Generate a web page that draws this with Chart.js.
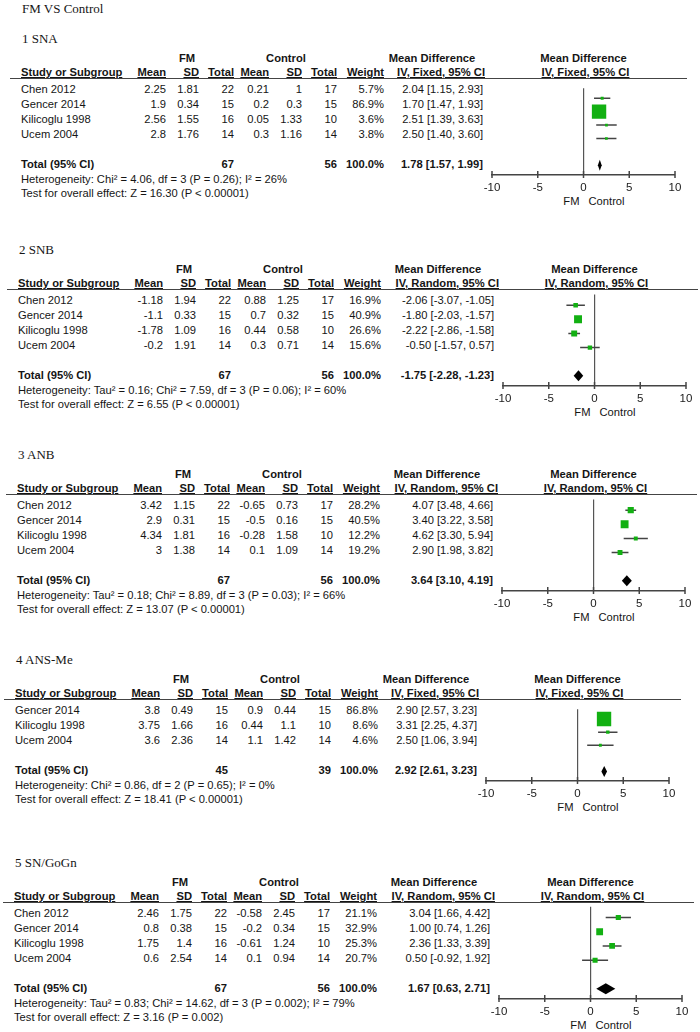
<!DOCTYPE html>
<html lang="en">
<head>
<meta charset="UTF-8">
<title>FM VS Control</title>
<script src="https://cdn.jsdelivr.net/npm/chart.js"></script>
<style>
  body { margin: 0; background: #fff; }
  #page {
    position: relative; width: 700px; height: 1032px; overflow: hidden;
    font-family: "Liberation Sans", Arial, sans-serif; font-size: 11.2px; color: #151515;
  }
  .t { position: absolute; white-space: nowrap; line-height: 14px; height: 14px; }
  .b { font-weight: bold; }
  .u { text-decoration: underline; }
  .serif { font-family: "Liberation Serif", "Times New Roman", serif; font-size: 13px; }
  .rule { position: absolute; height: 0; border-top: 1.5px solid #444; }
  canvas { position: absolute; }
</style>
</head>
<body>
<div id="page"></div>
<script>
// ---- data ----
const studies4 = ['Chen 2012', 'Gencer 2014', 'Kilicoglu 1998', 'Ucem 2004'];
const studies3 = ['Gencer 2014', 'Kilicoglu 1998', 'Ucem 2004'];
const xTicks = [-10, -5, 0, 5, 10];

// 1 SNA
const snaFmMean = [2.25, 1.9, 2.56, 2.8];
const snaFmSD = [1.81, 0.34, 1.55, 1.76];
const snaFmN = [22, 15, 16, 14];
const snaCtMean = [0.21, 0.2, 0.05, 0.3];
const snaCtSD = [1, 0.3, 1.33, 1.16];
const snaCtN = [17, 15, 10, 14];
const snaWeight = [5.7, 86.9, 3.6, 3.8];
const snaMD = [2.04, 1.70, 2.51, 2.50];
const snaLo = [1.15, 1.47, 1.39, 1.40];
const snaHi = [2.93, 1.93, 3.63, 3.60];
const snaTotal = [67, 56, 1.78, 1.57, 1.99];

// 2 SNB
const snbFmMean = [-1.18, -1.1, -1.78, -0.2];
const snbFmSD = [1.94, 0.33, 1.09, 1.91];
const snbFmN = [22, 15, 16, 14];
const snbCtMean = [0.88, 0.7, 0.44, 0.3];
const snbCtSD = [1.25, 0.32, 0.58, 0.71];
const snbCtN = [17, 15, 10, 14];
const snbWeight = [16.9, 40.9, 26.6, 15.6];
const snbMD = [-2.06, -1.80, -2.22, -0.50];
const snbLo = [-3.07, -2.03, -2.86, -1.57];
const snbHi = [-1.05, -1.57, -1.58, 0.57];
const snbTotal = [67, 56, -1.75, -2.28, -1.23];

// 3 ANB
const anbFmMean = [3.42, 2.9, 4.34, 3];
const anbFmSD = [1.15, 0.31, 1.81, 1.38];
const anbFmN = [22, 15, 16, 14];
const anbCtMean = [-0.65, -0.5, -0.28, 0.1];
const anbCtSD = [0.73, 0.16, 1.58, 1.09];
const anbCtN = [17, 15, 10, 14];
const anbWeight = [28.2, 40.5, 12.2, 19.2];
const anbMD = [4.07, 3.40, 4.62, 2.90];
const anbLo = [3.48, 3.22, 3.30, 1.98];
const anbHi = [4.66, 3.58, 5.94, 3.82];
const anbTotal = [67, 56, 3.64, 3.10, 4.19];

// 4 ANS-Me
const ansFmMean = [3.8, 3.75, 3.6];
const ansFmSD = [0.49, 1.66, 2.36];
const ansFmN = [15, 16, 14];
const ansCtMean = [0.9, 0.44, 1.1];
const ansCtSD = [0.44, 1.1, 1.42];
const ansCtN = [15, 10, 14];
const ansWeight = [86.8, 8.6, 4.6];
const ansMD = [2.90, 3.31, 2.50];
const ansLo = [2.57, 2.25, 1.06];
const ansHi = [3.23, 4.37, 3.94];
const ansTotal = [45, 39, 2.92, 2.61, 3.23];

// 5 SN/GoGn
const sngFmMean = [2.46, 0.8, 1.75, 0.6];
const sngFmSD = [1.75, 0.38, 1.4, 2.54];
const sngFmN = [22, 15, 16, 14];
const sngCtMean = [-0.58, -0.2, -0.61, 0.1];
const sngCtSD = [2.45, 0.34, 1.24, 0.94];
const sngCtN = [17, 15, 10, 14];
const sngWeight = [21.1, 32.9, 25.3, 20.7];
const sngMD = [3.04, 1.00, 2.36, 0.50];
const sngLo = [1.66, 0.74, 1.33, -0.92];
const sngHi = [4.42, 1.26, 3.39, 1.92];
const sngTotal = [67, 56, 1.67, 0.63, 2.71];

const GREEN = '#12b012';
const page = document.getElementById('page');

function put(txt, x, y, align, cls) {
  const d = document.createElement('div');
  d.className = 't ' + (cls || '');
  d.textContent = txt;
  if (align === 'right') {
    d.style.left = (x - 300) + 'px'; d.style.width = '300px'; d.style.textAlign = 'right';
  } else if (align === 'center') {
    d.style.left = (x - 150) + 'px'; d.style.width = '300px'; d.style.textAlign = 'center';
  } else {
    d.style.left = x + 'px';
  }
  d.style.top = (y - 7) + 'px';
  page.appendChild(d);
}

const ci = (m, l, h) => m.toFixed(2) + ' [' + l.toFixed(2) + ', ' + h.toFixed(2) + ']';

function panel(p) {
  const R = p.rule, dx = p.dx, n = p.studies.length;
  const cM1 = 166 + dx, cS1 = 199 + dx, cN1 = 234 + dx;
  const cM2 = 269 + dx, cS2 = 302 + dx, cN2 = 337 + dx, cW = 384 + dx;
  const cCI = cW + (p.random ? 113 : 99);
  const plotL = cCI + 9, plotW = 183, zero = plotL + plotW / 2;
  const left = 21 + dx;
  const model = p.random ? 'IV, Random, 95% CI' : 'IV, Fixed, 95% CI';

  put(p.title, 22 + dx, R - 39, 'left', 'serif');
  put('FM', 187 + dx, R - 20, 'center', 'b');
  put('Control', 286 + dx, R - 20, 'center', 'b');
  put('Mean Difference', cCI - (p.random ? 56 : 51), R - 20, 'center', 'b');
  put('Mean Difference', zero, R - 20, 'center', 'b');
  const hy = R - 6;
  put('Study or Subgroup', left, hy, 'left', 'b u');
  put('Mean', cM1, hy, 'right', 'b u');
  put('SD', cS1, hy, 'right', 'b u');
  put('Total', cN1, hy, 'right', 'b u');
  put('Mean', cM2, hy, 'right', 'b u');
  put('SD', cS2, hy, 'right', 'b u');
  put('Total', cN2, hy, 'right', 'b u');
  put('Weight', cW, hy, 'right', 'b u');
  put(model, cCI + (p.random ? 5 : 2), hy, 'right', 'b u');
  put(model, zero + 2, hy, 'center', 'b u');

  const rule = document.createElement('div');
  rule.className = 'rule';
  rule.style.left = (10 + dx) + 'px';
  rule.style.top = R + 'px';
  rule.style.width = (plotL + plotW + 12 - 10 - dx) + 'px';
  page.appendChild(rule);

  p.studies.forEach((s, i) => {
    const y = R + 11 + 15 * i;
    put(s, left, y, 'left');
    put(String(p.fmMean[i]), cM1, y, 'right');
    put(String(p.fmSD[i]), cS1, y, 'right');
    put(String(p.fmN[i]), cN1, y, 'right');
    put(String(p.ctMean[i]), cM2, y, 'right');
    put(String(p.ctSD[i]), cS2, y, 'right');
    put(String(p.ctN[i]), cN2, y, 'right');
    put(p.weight[i].toFixed(1) + '%', cW, y, 'right');
    put(ci(p.md[i], p.lo[i], p.hi[i]), cCI, y, 'right');
  });
  const ty = R + 11 + 15 * (n + 1);
  put('Total (95% CI)', left, ty, 'left', 'b');
  put(String(p.total[0]), cN1, ty, 'right', 'b');
  put(String(p.total[1]), cN2, ty, 'right', 'b');
  put('100.0%', cW, ty, 'right', 'b');
  put(ci(p.total[2], p.total[3], p.total[4]), cCI, ty, 'right', 'b');
  put(p.het, left, ty + 15, 'left');
  put(p.test, left, ty + 29, 'left');

  const areaH = Math.round((n + 2.47) * 15);
  put('FM', zero - 4, R + areaH + 26, 'right');
  put('Control', zero + 5, R + areaH + 26, 'left');

  const c = document.createElement('canvas');
  c.width = plotW + 30;
  c.height = areaH + 36;
  c.style.left = (plotL - 15) + 'px';
  c.style.top = R + 'px';
  page.appendChild(c);

  const forest = {
    id: 'forest',
    afterDraw(chart) {
      const { ctx, scales: { x, y } } = chart;
      ctx.save();
      // tick marks crossing the axis
      ctx.strokeStyle = '#444';
      ctx.lineWidth = 1.5;
      const ab = chart.chartArea.bottom;
      xTicks.forEach(v => {
        const px = x.getPixelForValue(v);
        ctx.beginPath(); ctx.moveTo(px, ab - 4); ctx.lineTo(px, ab + 3); ctx.stroke();
      });
      // pooled diamond
      const yc = y.getPixelForValue(n + 1);
      const xl = x.getPixelForValue(p.total[3]);
      const xm = x.getPixelForValue(p.total[2]);
      const xr = x.getPixelForValue(p.total[4]);
      ctx.fillStyle = '#000';
      ctx.beginPath();
      ctx.moveTo(xl, yc); ctx.lineTo(xm, yc - 5.5); ctx.lineTo(xr, yc); ctx.lineTo(xm, yc + 5.5);
      ctx.closePath(); ctx.fill();
      ctx.restore();
    }
  };

  new Chart(c, {
    type: 'scatter',
    data: {
      datasets: [
        {
          data: p.md.map((v, i) => ({ x: v, y: i })),
          pointStyle: 'rect',
          pointRadius: p.weight.map(w => (2.2 + 0.14 * w) / Math.SQRT2),
          backgroundColor: GREEN,
          borderWidth: 0
        },
        ...p.lo.map((l, i) => ({
          type: 'line',
          data: [{ x: l, y: i }, { x: p.hi[i], y: i }],
          borderColor: '#444',
          borderWidth: 1.5,
          pointRadius: 0
        }))
      ]
    },
    options: {
      responsive: false,
      animation: false,
      layout: { padding: { left: 15, right: 15, top: 0, bottom: 0 } },
      plugins: { legend: { display: false }, tooltip: { enabled: false } },
      scales: {
        x: {
          type: 'linear', min: -10, max: 10,
          afterBuildTicks: s => { s.ticks = xTicks.map(v => ({ value: v })); },
          afterFit: s => { s.height = 36; },
          grid: {
            drawTicks: false,
            lineWidth: 1.2,
            color: ctx => (ctx.tick && ctx.tick.value === 0) ? '#555' : 'rgba(0,0,0,0)'
          },
          border: { color: '#444', width: 1.5 },
          ticks: { padding: 6, color: '#1a1a1a', font: { family: 'Liberation Sans', size: 11.5 } }
        },
        y: { type: 'linear', display: false, reverse: true, min: -0.75, max: n + 1.72 }
      }
    },
    plugins: [forest]
  });
}

put('FM VS Control', 22, 9, 'left', 'serif');

panel({ title: '1 SNA', rule: 78, dx: 0, random: false, studies: studies4,
  fmMean: snaFmMean, fmSD: snaFmSD, fmN: snaFmN, ctMean: snaCtMean, ctSD: snaCtSD, ctN: snaCtN,
  weight: snaWeight, md: snaMD, lo: snaLo, hi: snaHi, total: snaTotal,
  het: 'Heterogeneity: Chi² = 4.06, df = 3 (P = 0.26); I² = 26%',
  test: 'Test for overall effect: Z = 16.30 (P < 0.00001)' });

panel({ title: '2 SNB', rule: 289, dx: -3, random: true, studies: studies4,
  fmMean: snbFmMean, fmSD: snbFmSD, fmN: snbFmN, ctMean: snbCtMean, ctSD: snbCtSD, ctN: snbCtN,
  weight: snbWeight, md: snbMD, lo: snbLo, hi: snbHi, total: snbTotal,
  het: 'Heterogeneity: Tau² = 0.16; Chi² = 7.59, df = 3 (P = 0.06); I² = 60%',
  test: 'Test for overall effect: Z = 6.55 (P < 0.00001)' });

panel({ title: '3 ANB', rule: 494, dx: -4, random: true, studies: studies4,
  fmMean: anbFmMean, fmSD: anbFmSD, fmN: anbFmN, ctMean: anbCtMean, ctSD: anbCtSD, ctN: anbCtN,
  weight: anbWeight, md: anbMD, lo: anbLo, hi: anbHi, total: anbTotal,
  het: 'Heterogeneity: Tau² = 0.18; Chi² = 8.89, df = 3 (P = 0.03); I² = 66%',
  test: 'Test for overall effect: Z = 13.07 (P < 0.00001)' });

panel({ title: '4 ANS-Me', rule: 699, dx: -6, random: false, studies: studies3,
  fmMean: ansFmMean, fmSD: ansFmSD, fmN: ansFmN, ctMean: ansCtMean, ctSD: ansCtSD, ctN: ansCtN,
  weight: ansWeight, md: ansMD, lo: ansLo, hi: ansHi, total: ansTotal,
  het: 'Heterogeneity: Chi² = 0.86, df = 2 (P = 0.65); I² = 0%',
  test: 'Test for overall effect: Z = 18.41 (P < 0.00001)' });

panel({ title: '5 SN/GoGn', rule: 902, dx: -7, random: true, studies: studies4,
  fmMean: sngFmMean, fmSD: sngFmSD, fmN: sngFmN, ctMean: sngCtMean, ctSD: sngCtSD, ctN: sngCtN,
  weight: sngWeight, md: sngMD, lo: sngLo, hi: sngHi, total: sngTotal,
  het: 'Heterogeneity: Tau² = 0.83; Chi² = 14.62, df = 3 (P = 0.002); I² = 79%',
  test: 'Test for overall effect: Z = 3.16 (P = 0.002)' });
</script>
</body>
</html>
